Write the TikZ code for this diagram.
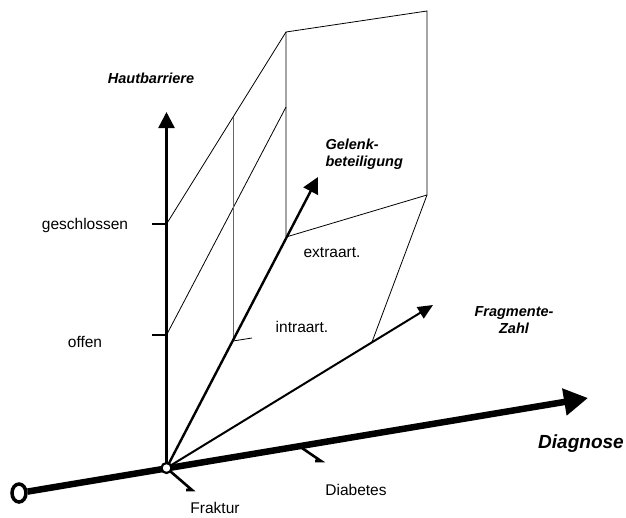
\documentclass[tikz,border=0pt]{standalone}
\usepackage{fontspec}
\setmainfont{Liberation Sans}
\usetikzlibrary{arrows.meta,shapes}

\begin{document}
\begin{tikzpicture}[x=1pt, y=-1pt,
  axis/.style={line width=2.4pt, -{Triangle[length=16pt,width=16pt]}},
  wire/.style={line width=0.8pt},
  tickline/.style={line width=1.2pt},
  foot/.style={line width=2.6pt, line join=miter},
  lbl/.style={font=\fontsize{15.5}{18}\selectfont},
  axlabel/.style={font=\fontsize{14.5}{17}\selectfont\bfseries\itshape, align=center}]
  \useasboundingbox (0,0) rectangle (626,517);
  % points on the axes
  \coordinate (o) at (166.5,468);
  \coordinate (hb) at (166.5,112);
  \coordinate (gb) at (318,177);
  \coordinate (fz) at (433,305);
  \coordinate (dg) at (588,398);
  \coordinate (ges) at (166.5,224);
  \coordinate (off) at (166.5,335);
  \coordinate (intra) at (233,341);
  \coordinate (extra) at (286,237);
  \coordinate (fr) at (372,342);
  \coordinate (diab) at (299,446);
  \coordinate (fk) at (192,490);
  \coordinate (db) at (321,461);
  % box corners
  \coordinate (b1) at (286,32);
  \coordinate (b2) at (427,11);
  \coordinate (b3) at (427,195);
  \coordinate (b0) at (286,107);
  \coordinate (v) at (233,117);
  % box and projections
  \draw[wire] (extra) -- (b1) -- (b2) -- (b3) -- cycle;
  \draw[wire] (ges) -- (b1);
  \draw[wire] (off) -- (b0);
  \draw[wire, black!60] (v) -- (intra);
  \draw[wire] (b3) -- (fr);
  \draw[wire] (intra) -- ++(19,-3);
  % axes
  \draw[tickline] (ges) -- ++(-15,0);
  \draw[tickline] (off) -- ++(-15,0);
  \draw[axis] (o) -- (hb);
  \draw[axis] (o) -- (gb);
  \draw[axis, line width=2pt, -{Triangle[length=15pt,width=13pt]}] (o) -- (fz);
  \node[ellipse, draw, line width=3.5pt, fill=white, minimum width=14pt,
        minimum height=18pt, inner sep=0pt] (start) at (19,493) {};
  \draw[line width=6.5pt, -{Triangle[length=24pt,width=26pt]}] (start) -- (dg);
  \draw[foot] (o) -- (fk) -- ++(-6,0);
  \draw[foot] (diab) -- (db) -- ++(-6,0);
  \node[circle, draw, line width=2.2pt, fill=white, minimum size=10pt,
        inner sep=0pt] (orig) at (o) {};
  % labels
  \node[axlabel] (hbl) at (151,78) {Hautbarriere};
  \node[axlabel, align=left, anchor=west] (gbl) at (322,154) {Gelenk-\\beteiligung};
  \node[axlabel] (fzl) at (514,320) {Fragmente-\\Zahl};
  \node[axlabel, font=\fontsize{19}{22}\selectfont\bfseries\itshape] (dgl) at (581,444) {Diagnose};
  \node[lbl] (gesl) at (85,225) {geschlossen};
  \node[lbl] (offl) at (85,342) {offen};
  \node[lbl] (extral) at (332,253) {extraart.};
  \node[lbl] (intral) at (302,327) {intraart.};
  \node[lbl] (frl) at (215,508) {Fraktur};
  \node[lbl] (diabl) at (356,490) {Diabetes};
\end{tikzpicture}
\end{document}
